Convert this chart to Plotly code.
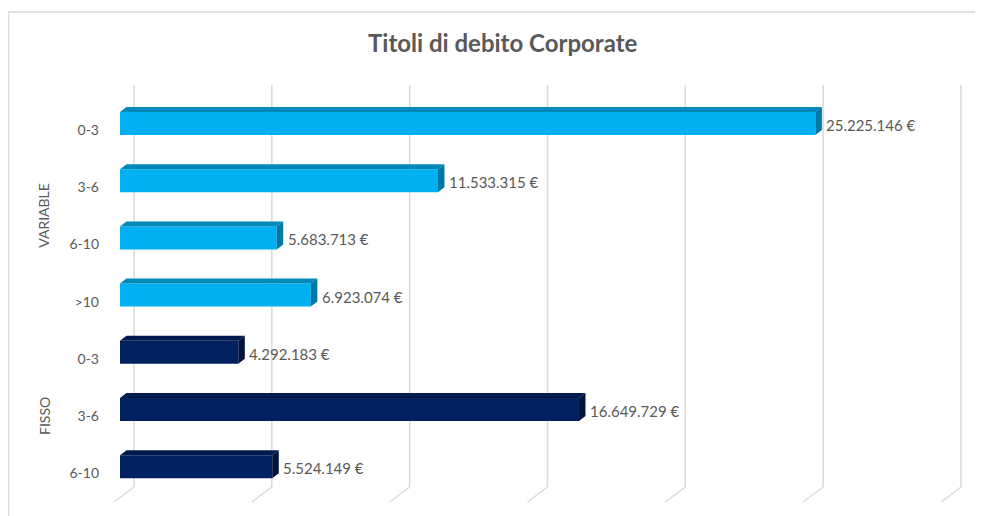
import plotly.graph_objects as go

# ---------------- data ----------------
groups = ["VARIABLE", "VARIABLE", "VARIABLE", "VARIABLE", "FISSO", "FISSO", "FISSO"]
categories = ["0-3", "3-6", "6-10", ">10", "0-3", "3-6", "6-10"]
values = [25225146, 11533315, 5683713, 6923074, 4292183, 16649729, 5524149]
grid_values = [0, 5e6, 10e6, 15e6, 20e6, 25e6, 30e6]
group_names = ["VARIABLE", "FISSO"]
title_text = "Titoli di debito Corporate"

# ---------------- style ----------------
front_colors = {"VARIABLE": "#00B0F0", "FISSO": "#002060"}
top_colors = {"VARIABLE": "#0088BA", "FISSO": "#001A4D"}
side_colors = {"VARIABLE": "#0077A5", "FISSO": "#00143C"}
TEXT = "#595959"
GRID = "#D9D9D9"
FONT = "Lato"

OFF = 8             # default body margin of the html page
W, H = 983 - OFF, 516 - OFF
X0PX = 120 - OFF    # pixel of value 0 on the bar front face
PL, PR = 100 - OFF, 975 - OFF
PT, PB = 80 - OFF, 506 - OFF
XMAX = 30e6
SX = 827 / XMAX     # px per unit
ROW0, SY = 130.0 - OFF, 57.2


def yv(px):
    return (px - OFF - ROW0) / SY


def xv(dpx):
    return dpx / SX


def paper_x(px):
    return (px - OFF - PL) / (PR - PL)


def paper_y(px):
    return (PB - (px - OFF)) / (PB - PT)


pos = list(range(len(values)))
BAR_TOP, BAR_BOT = -18, 5
bw = (BAR_BOT - BAR_TOP) / SY
boff = BAR_TOP / SY
DX, DY = 6.5, 5.0

fig = go.Figure()
fig.add_trace(go.Bar(
    y=pos, x=values, orientation="h", width=bw, offset=boff,
    marker=dict(color=[front_colors[g] for g in groups], line=dict(width=0)),
    hoverinfo="x",
))

shapes = []
# gridlines (back wall + floor diagonal)
for gv in grid_values:
    xb = gv + xv(14)
    shapes.append(dict(type="line", xref="x", yref="y", x0=xb, x1=xb,
                       y0=yv(85), y1=yv(487), layer="below",
                       line=dict(color=GRID, width=1.5)))
    shapes.append(dict(type="line", xref="x", yref="y", x0=xb, x1=gv + xv(-6),
                       y0=yv(487), y1=yv(502), layer="below",
                       line=dict(color=GRID, width=1.5)))

# 3D faces of bars
dxd = xv(DX)
dyd = DY / SY
for p, v, g in zip(pos, values, groups):
    yt = p + boff
    yb = yt + bw
    shapes.append(dict(type="path", xref="x", yref="y", layer="above",
                       path=f"M 0,{yt} L {v},{yt} L {v + dxd},{yt - dyd} L {dxd},{yt - dyd} Z",
                       fillcolor=top_colors[g], line=dict(width=0)))
    shapes.append(dict(type="path", xref="x", yref="y", layer="above",
                       path=f"M {v},{yt} L {v + dxd},{yt - dyd} L {v + dxd},{yb - dyd} L {v},{yb} Z",
                       fillcolor=side_colors[g], line=dict(width=0)))

# chart border
shapes.append(dict(type="rect", xref="paper", yref="paper",
                   x0=paper_x(8.5), x1=paper_x(1000), y0=paper_y(540), y1=paper_y(12),
                   line=dict(color=GRID, width=1.5), fillcolor="rgba(0,0,0,0)", layer="below"))

annotations = []
# data labels
for p, v in zip(pos, values):
    label = f"{v:,}".replace(",", ".") + " €"
    annotations.append(dict(x=v, y=p, xref="x", yref="y", text=label, showarrow=False,
                            xanchor="left", yanchor="middle", xshift=9, yshift=5,
                            font=dict(family=FONT, size=15, color=TEXT)))
# group labels
for gname in group_names:
    idx = [p for p, g in zip(pos, groups) if g == gname]
    annotations.append(dict(x=paper_x(44), y=sum(idx) / len(idx), xref="paper", yref="y",
                            text=gname, showarrow=False, textangle=-90,
                            xanchor="center", yanchor="middle",
                            font=dict(family=FONT, size=14, color=TEXT)))
# title
annotations.append(dict(x=paper_x(502), y=paper_y(42), xref="paper", yref="paper",
                        text=title_text, showarrow=False, xanchor="center", yanchor="middle",
                        font=dict(family=FONT, size=24, color=TEXT, weight="bold")))

fig.update_layout(
    width=W, height=H,
    margin=dict(l=PL, r=W - PR, t=PT, b=H - PB, pad=0),
    paper_bgcolor="white", plot_bgcolor="white",
    showlegend=False,
    shapes=shapes, annotations=annotations,
    xaxis=dict(range=[(PL - X0PX) / SX, (PR - X0PX) / SX], showgrid=False, zeroline=False,
               showticklabels=False, showline=False, ticks=""),
    yaxis=dict(range=[yv(PB + OFF), yv(PT + OFF)], tickvals=pos, ticktext=categories,
               showgrid=False, zeroline=False, showline=False, ticks="",
               tickfont=dict(family=FONT, size=14, color=TEXT)),
)

fig.write_html("out.html")
